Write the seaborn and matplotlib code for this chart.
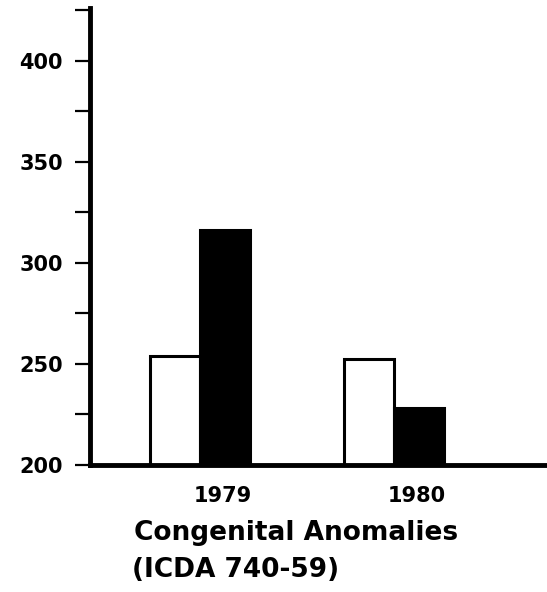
import matplotlib
matplotlib.use("Agg")
import matplotlib.pyplot as plt
import matplotlib.transforms as mtransforms
import seaborn as sns
import pandas as pd

# Rates per year, two series (open and solid bars)
years = ["1979", "1980"]
series = ["A", "B"]
values_a = [254, 252.5]
values_b = [316, 228]
y_ticks = [200, 225, 250, 275, 300, 325, 350, 375, 400, 425]
y_labels = ["200", "", "250", "", "300", "", "350", "", "400", ""]
title_lines = ["Congenital Anomalies", "(ICDA 740-59)"]

df = pd.DataFrame({
    "year": years * 2,
    "series": [series[0]] * 2 + [series[1]] * 2,
    "value": values_a + values_b,
})

sns.set_style("white")
plt.rcParams["font.family"] = ["DejaVu Sans"]
plt.rcParams["text.color"] = "black"
plt.rcParams["xtick.color"] = "black"
plt.rcParams["ytick.color"] = "black"

fig = plt.figure(figsize=(5.47, 5.92), dpi=100)
ax = fig.add_axes([90 / 547, 1 - 465 / 592, 457 / 547, (465 - 8) / 592])

sns.barplot(data=df, x="year", y="value", hue="series", order=years,
            hue_order=series, palette=["white", "black"], edgecolor="black",
            linewidth=2.2, width=0.52, saturation=1, legend=False, ax=ax)

ax.set_ylim(200, 426)
ax.set_xlim(-0.567, 1.789)
ax.set_yticks(y_ticks)
ax.set_yticklabels(y_labels, fontsize=15, fontweight="bold", color="black")
ax.tick_params(axis="y", direction="out", length=10.5, width=1.6, pad=9,
               left=True, colors="black")
ax.tick_params(axis="x", length=0, pad=15)
ax.set_xticks([0, 1])
ax.set_xticklabels(years, fontsize=15, fontweight="bold", color="black")
# year labels sit a little to the right of the group centres
shift = mtransforms.ScaledTranslation(23 / 100, 0, fig.dpi_scale_trans)
for lab in ax.get_xticklabels():
    lab.set_transform(lab.get_transform() + shift)

for side in ["top", "right"]:
    ax.spines[side].set_visible(False)
for side in ["left", "bottom"]:
    ax.spines[side].set_linewidth(3.5)
    ax.spines[side].set_color("black")
ax.set_xlabel("")
ax.set_ylabel("")

fig.text(134 / 547, 1 - 540 / 592, title_lines[0], fontsize=19,
         fontweight="bold", va="baseline", ha="left", color="black")
fig.text(132 / 547, 1 - 577 / 592, title_lines[1], fontsize=19,
         fontweight="bold", va="baseline", ha="left", color="black")

fig.savefig("out.png", dpi=100, facecolor="white")
